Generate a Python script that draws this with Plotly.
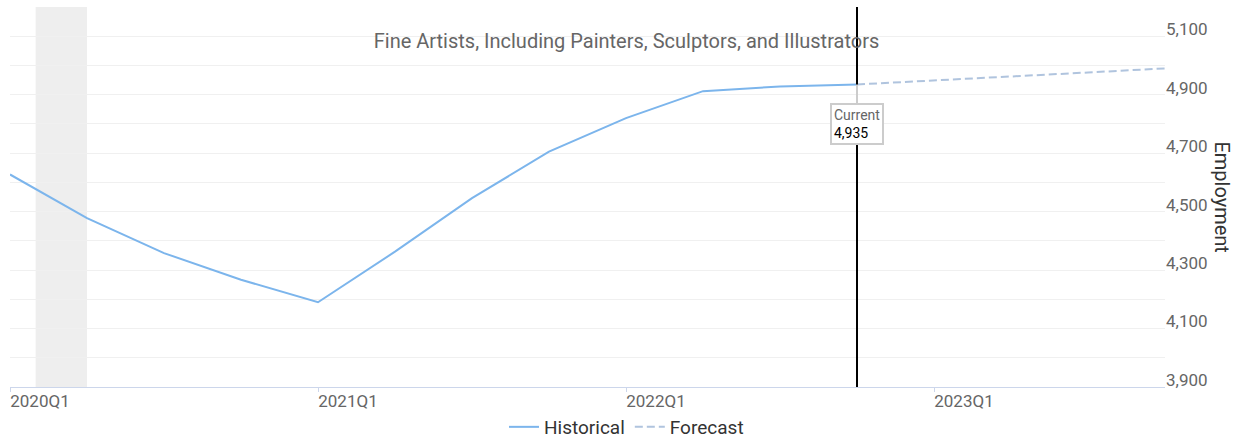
import plotly.graph_objects as go

quarters = ["2020Q1","2020Q2","2020Q3","2020Q4","2021Q1","2021Q2","2021Q3","2021Q4",
            "2022Q1","2022Q2","2022Q3","2022Q4","2023Q1","2023Q2","2023Q3","2023Q4"]
historical = [4627, 4478, 4358, 4267, 4190, 4363, 4546, 4705, 4820, 4912, 4928, 4935]
forecast = [4935, 4948, 4962, 4976, 4990]
current_value = 4935
recession_start = 1/3
recession_end = 1.0
xtick_labels = ["2020Q1", "2021Q1", "2022Q1", "2023Q1"]
title = "Fine Artists, Including Painters, Sculptors, and Illustrators"

idx = list(range(len(quarters)))
hist_x = idx[:len(historical)]
fc_x = idx[len(historical)-1:len(historical)-1+len(forecast)]
cur_x = hist_x[-1]

yvals = list(range(3900, 5201, 100))
ytext = [f"{v:,}" if (v - 3900) % 200 == 0 and v < 5200 else "" for v in yvals]

fig = go.Figure()
fig.add_trace(go.Scatter(x=hist_x, y=historical, mode="lines", name="Historical",
                         line=dict(color="#7cb5ec", width=2), hoverinfo="skip"))
fig.add_trace(go.Scatter(x=fc_x, y=forecast, mode="lines", name="Forecast",
                         line=dict(color="#b0c4de", width=2, dash="8px,4px"), hoverinfo="skip"))

fig.add_shape(type="rect", xref="x", yref="paper", x0=recession_start, x1=recession_end,
              y0=0, y1=1, fillcolor="#eeeeee", line_width=0, layer="below")
fig.add_shape(type="line", xref="x", yref="paper", x0=cur_x, x1=cur_x, y0=0, y1=1,
              line=dict(color="black", width=2), layer="above")

fig.add_annotation(x=cur_x, y=current_value, xref="x", yref="y",
                   text="<span style='color:#666666'>Current</span><br>" + f"{current_value:,}",
                   showarrow=True, arrowhead=0, arrowcolor="#cccccc", arrowwidth=2,
                   ax=0, ay=40, align="left", bgcolor="white", bordercolor="#cccccc",
                   borderwidth=2, borderpad=2, font=dict(family="Roboto", size=14, color="black"))

fig.add_annotation(text="Employment", xref="paper", yref="paper", x=1.049, y=0.5,
                   showarrow=False, textangle=90, font=dict(family="Roboto", size=20, color="#333333"),
                   xanchor="center", yanchor="middle")

fig.update_layout(
    width=1253, height=440,
    margin=dict(l=10, r=88, t=7, b=53, autoexpand=False),
    paper_bgcolor="white", plot_bgcolor="white",
    font=dict(family="Roboto", color="#666666"),
    title=dict(text=title, xref="container", yref="container", x=0.5, y=1 - 41/440,
               xanchor="center", yanchor="middle", font=dict(size=20, color="#666666")),
    showlegend=True,
    legend=dict(orientation="h", xref="container", yref="paper", x=0.5, y=-40/380,
                xanchor="center", yanchor="middle", font=dict(size=19, color="#333333"),
                itemwidth=30),
    xaxis=dict(range=[0, len(quarters)-1], tickvals=[0, 4, 8, 12], ticktext=xtick_labels,
               showgrid=False, showline=True, linecolor="#ccd6eb", linewidth=1,
               ticks="outside", ticklen=4, tickcolor="#ccd6eb", ticklabelshift=30,
               ticklabelstandoff=-5,
               tickfont=dict(size=17, color="#666666"), zeroline=False),
    yaxis=dict(range=[3900, 5200], side="right", tickvals=yvals, ticktext=ytext,
               showgrid=True, gridcolor="#f0f0f0", gridwidth=1, zeroline=False,
               ticks="", ticklabelshift=-7, tickfont=dict(size=17, color="#666666")),
)

fig.write_html("out.html")
